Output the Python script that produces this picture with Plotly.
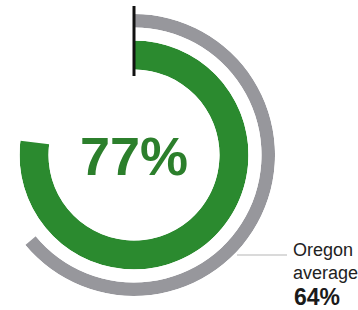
import numpy as np
import plotly.graph_objects as go

# ---- data ----
school_label = "77%"
school_pct = [77]
state_label = ["Oregon", "average"]
state_pct = [64]

# ---- geometry / style ----
W, H = 358, 310
CX, CY = 134.0, 155.0
G_OUT, G_IN = 114.5, 85.5
S_OUT, S_IN = 141.0, 127.5
GREEN = "#2b8a2f"
GRAY = "#97979c"
TEXT_GREEN = "#2c7f2c"

fig = go.Figure()

# green ring (full polar)
fig.add_trace(go.Barpolar(
    r=[1], base=[0],
    theta=[v * 3.6 / 2 for v in school_pct],
    width=[v * 3.6 for v in school_pct],
    marker=dict(color=GREEN, line=dict(width=0)),
    subplot="polar", hoverinfo="skip", showlegend=False,
))

# gray ring (sector polar so it fits the page)
gray_end = 90 - state_pct[0] * 3.6
sector = [gray_end - 0.5, 90]
fig.add_trace(go.Barpolar(
    r=[1], base=[0],
    theta=[v * 3.6 / 2 for v in state_pct],
    width=[v * 3.6 for v in state_pct],
    marker=dict(color=GRAY, line=dict(width=0)),
    subplot="polar2", hoverinfo="skip", showlegend=False,
))

def px_dom_x(a, b):
    return [a / W, b / W]

def px_dom_y(top, bottom):
    return [1 - bottom / H, 1 - top / H]

xmin_frac = np.cos(np.deg2rad(sector[0]))
pol_common = dict(
    bgcolor="rgba(0,0,0,0)",
    angularaxis=dict(visible=False, rotation=90, direction="clockwise",
                     showgrid=False, showline=False, ticks=""),
    radialaxis=dict(visible=False, range=[0, 1], showgrid=False,
                    showline=False, ticks=""),
    gridshape="circular",
)

fig.update_layout(
    width=W, height=H,
    margin=dict(l=0, r=0, t=0, b=0),
    paper_bgcolor="white", plot_bgcolor="white",
    showlegend=False,
    polar=dict(
        domain=dict(x=px_dom_x(CX - G_OUT, CX + G_OUT),
                    y=px_dom_y(CY - G_OUT, CY + G_OUT)),
        hole=G_IN / G_OUT, **pol_common,
    ),
    polar2=dict(
        domain=dict(x=px_dom_x(CX + S_OUT * xmin_frac, CX + S_OUT),
                    y=px_dom_y(CY - S_OUT, CY + S_OUT)),
        sector=sector,
        hole=S_IN / S_OUT, **pol_common,
    ),
)

# start marker and leader line
fig.add_shape(type="line", xref="paper", yref="paper",
              x0=CX / W, x1=CX / W, y0=1 - 6 / H, y1=1 - 76 / H,
              line=dict(color="#111111", width=3))
fig.add_shape(type="line", xref="paper", yref="paper",
              x0=237 / W, x1=287 / W, y0=1 - 255 / H, y1=1 - 255 / H,
              line=dict(color="#b5b5b5", width=1))

fig.add_annotation(text="<b>" + school_label + "</b>", x=CX / W, y=1 - 156 / H,
                   xref="paper", yref="paper", showarrow=False,
                   xanchor="center", yanchor="middle",
                   font=dict(family="Liberation Sans, Arial", size=54, color=TEXT_GREEN))
fig.add_annotation(text=state_label[0], x=291 / W, y=1 - 250 / H,
                   xref="paper", yref="paper", showarrow=False,
                   xanchor="left", yanchor="middle",
                   font=dict(family="Liberation Sans, Arial", size=18, color="#222222"))
fig.add_annotation(text=state_label[1], x=291 / W, y=1 - 273 / H,
                   xref="paper", yref="paper", showarrow=False,
                   xanchor="left", yanchor="middle",
                   font=dict(family="Liberation Sans, Arial", size=18, color="#222222"))
fig.add_annotation(text="<b>%d%%</b>" % state_pct[0], x=293 / W, y=1 - 297 / H,
                   xref="paper", yref="paper", showarrow=False,
                   xanchor="left", yanchor="middle", borderpad=0,
                   font=dict(family="Liberation Sans, Arial", size=23, color="#1a1a1a"))

fig.write_html("out.html", config=dict(displayModeBar=False),
               post_script="document.body.style.margin='0';document.body.style.overflow='hidden';")
